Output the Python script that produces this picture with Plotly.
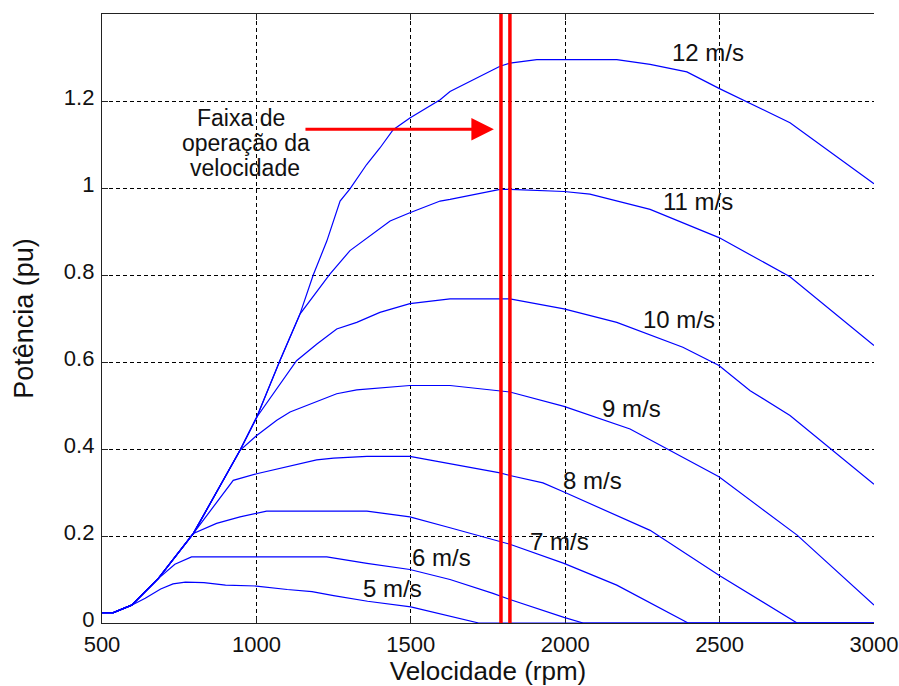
import plotly.graph_objects as go

# ---------------- data ----------------
rpm_5 = [500, 537, 596, 640, 690, 730, 770, 830, 900, 1000, 1100, 1180, 1250, 1360, 1500, 1630, 1720, 3000]
p_5 = [0.024, 0.024, 0.041, 0.057, 0.078, 0.090, 0.094, 0.093, 0.087, 0.085, 0.077, 0.072, 0.063, 0.050, 0.037, 0.015, 0.0, 0.0]

rpm_6 = [500, 537, 596, 682, 736, 790, 1228, 1358, 1497, 1627, 1766, 1821, 1996, 2058, 3000]
p_6 = [0.024, 0.024, 0.041, 0.102, 0.135, 0.152, 0.152, 0.137, 0.123, 0.100, 0.068, 0.054, 0.013, 0.0, 0.0]

rpm_7 = [500, 537, 596, 682, 796, 871, 947, 1001, 1033, 1358, 1497, 1627, 1789, 1821, 1996, 2167, 2398, 3000]
p_7 = [0.024, 0.024, 0.041, 0.102, 0.206, 0.229, 0.244, 0.252, 0.257, 0.257, 0.244, 0.219, 0.187, 0.181, 0.137, 0.087, 0.0, 0.0]

rpm_8 = [500, 537, 596, 682, 796, 925, 1001, 1098, 1195, 1250, 1358, 1497, 1627, 1789, 1821, 1928, 1996, 2275, 2498, 2751, 3000]
p_8 = [0.024, 0.024, 0.041, 0.102, 0.206, 0.328, 0.343, 0.359, 0.375, 0.379, 0.383, 0.383, 0.366, 0.345, 0.339, 0.322, 0.301, 0.213, 0.110, 0.0, 0.0]

rpm_9 = [500, 537, 596, 682, 796, 947, 1001, 1066, 1109, 1195, 1260, 1325, 1400, 1497, 1627, 1789, 1821, 1996, 2210, 2498, 2751, 3000]
p_9 = [0.024, 0.024, 0.041, 0.102, 0.206, 0.397, 0.431, 0.466, 0.485, 0.508, 0.527, 0.536, 0.541, 0.546, 0.546, 0.534, 0.531, 0.498, 0.446, 0.336, 0.202, 0.041]

rpm_10 = [500, 537, 596, 682, 796, 947, 1001, 1130, 1195, 1260, 1325, 1400, 1497, 1627, 1821, 1886, 1996, 2167, 2381, 2498, 2599, 2728, 2867, 3000]
p_10 = [0.024, 0.024, 0.041, 0.102, 0.206, 0.397, 0.473, 0.603, 0.641, 0.676, 0.691, 0.714, 0.734, 0.745, 0.745, 0.737, 0.722, 0.691, 0.634, 0.592, 0.534, 0.477, 0.397, 0.319]

rpm_11 = [500, 537, 596, 682, 796, 947, 1001, 1076, 1141, 1238, 1303, 1346, 1390, 1433, 1497, 1595, 1627, 1789, 1821, 1996, 2080, 2275, 2498, 2728, 3000]
p_11 = [0.024, 0.024, 0.041, 0.102, 0.206, 0.397, 0.473, 0.603, 0.710, 0.802, 0.856, 0.878, 0.901, 0.924, 0.943, 0.970, 0.974, 0.997, 0.997, 0.992, 0.986, 0.951, 0.886, 0.796, 0.638]

rpm_12 = [500, 537, 596, 682, 796, 947, 1001, 1076, 1141, 1184, 1228, 1271, 1303, 1357, 1400, 1443, 1497, 1595, 1627, 1789, 1821, 1908, 2167, 2275, 2394, 2498, 2728, 3000]
p_12 = [0.024, 0.024, 0.041, 0.102, 0.206, 0.397, 0.473, 0.603, 0.710, 0.800, 0.878, 0.970, 0.998, 1.054, 1.092, 1.134, 1.161, 1.203, 1.222, 1.280, 1.287, 1.295, 1.295, 1.284, 1.267, 1.229, 1.150, 1.010]

curve_labels = ["5 m/s", "6 m/s", "7 m/s", "8 m/s", "9 m/s", "10 m/s", "11 m/s", "12 m/s"]
label_rpm = [1442, 1601, 1983, 2088, 2215, 2368, 2430, 2462]
label_p = [0.080, 0.151, 0.187, 0.328, 0.493, 0.697, 0.970, 1.312]

faixa_rpm = [1792, 1821]            # red vertical lines (speed operating range)
arrow_rpm = [1154, 1769]            # arrow start / end
arrow_p = 1.135
faixa_lines = ["Faixa de", "operação da", "velocidade"]
faixa_line_rpm = [950, 967, 963]
faixa_line_p = [1.161, 1.103, 1.046]

x_ticks = [500, 1000, 1500, 2000, 2500, 3000]
y_ticks = [0, 0.2, 0.4, 0.6, 0.8, 1.0, 1.2]
y_ticktext = ["0", "0.2", "0.4", "0.6", "0.8", "1", "1.2"]

# ---------------- figure ----------------
FONT = "Liberation Sans, Arial, sans-serif"
TXT = "#111111"
fig = go.Figure()

series = [(rpm_5, p_5), (rpm_6, p_6), (rpm_7, p_7), (rpm_8, p_8),
          (rpm_9, p_9), (rpm_10, p_10), (rpm_11, p_11), (rpm_12, p_12)]
for (xs, ys), name in zip(series, curve_labels):
    fig.add_trace(go.Scatter(x=xs, y=ys, mode="lines", name=name,
                             line=dict(color="#0000FF", width=1.2),
                             showlegend=False, hoverinfo="skip"))

for xv in faixa_rpm:
    fig.add_shape(type="line", xref="x", yref="paper", x0=xv, x1=xv, y0=0, y1=1,
                  line=dict(color="#FF0000", width=3.5), layer="above")

for txt, xv, yv in zip(curve_labels, label_rpm, label_p):
    fig.add_annotation(x=xv, y=yv, text=txt, showarrow=False,
                       font=dict(family=FONT, size=24, color=TXT),
                       xanchor="center", yanchor="middle")

for txt, xv, yv in zip(faixa_lines, faixa_line_rpm, faixa_line_p):
    fig.add_annotation(x=xv, y=yv, text=txt, showarrow=False,
                       font=dict(family=FONT, size=23, color=TXT),
                       xanchor="center", yanchor="middle")

fig.add_annotation(x=arrow_rpm[1], y=arrow_p, ax=arrow_rpm[0], ay=arrow_p,
                   xref="x", yref="y", axref="x", ayref="y", text="",
                   showarrow=True, arrowhead=2, arrowsize=1.5, arrowwidth=3,
                   arrowcolor="#FF0000")

fig.update_xaxes(range=[500, 3000], tickvals=x_ticks,
                 ticks="inside", ticklen=6, tickcolor="#222222",
                 showline=True, linecolor="#222222", linewidth=1.3, mirror="ticks",
                 showgrid=True, gridcolor="#000000", gridwidth=1, griddash="4px,3px",
                 zeroline=False, layer="below traces", ticklabelstandoff=1,
                 tickfont=dict(family=FONT, size=22, color=TXT),
                 title=dict(text="Velocidade (rpm)", standoff=5,
                            font=dict(family=FONT, size=26, color=TXT)))
fig.update_yaxes(range=[0, 1.4], tickvals=y_ticks, ticktext=y_ticktext,
                 ticks="inside", ticklen=6, tickcolor="#222222",
                 showline=True, linecolor="#222222", linewidth=1.3, mirror=False,
                 showgrid=True, gridcolor="#000000", gridwidth=1, griddash="4px,3px",
                 zeroline=False, layer="below traces", ticklabelstandoff=2,
                 ticklabelshift=-4,
                 tickfont=dict(family=FONT, size=22, color=TXT),
                 title=dict(text="Potência (pu)", standoff=22,
                            font=dict(family=FONT, size=27, color=TXT)))

fig.update_layout(width=899, height=686, autosize=False,
                  margin=dict(l=102, r=25, t=14, b=63, pad=0, autoexpand=False),
                  paper_bgcolor="white", plot_bgcolor="white")

fig.write_html("out.html", config={"responsive": False})
